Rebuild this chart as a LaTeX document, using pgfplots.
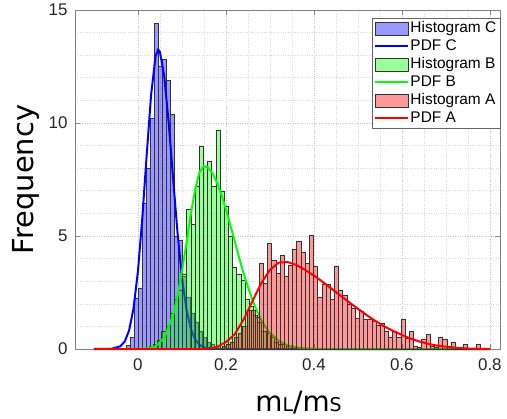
\documentclass[border=0pt]{standalone}
\usepackage{pgfplots}
\pgfplotsset{compat=1.18}
\usepackage{fontspec}
\setmainfont{Liberation Sans}
\newfontfamily\dejavu{DejaVu Sans}
\definecolor{hblue}{RGB}{0,0,255}
\definecolor{hgreen}{RGB}{0,255,0}
\definecolor{hred}{RGB}{255,0,0}
\definecolor{tickgray}{RGB}{38,38,38}
\definecolor{axgray}{RGB}{130,130,130}
\pgfplotsset{
  patchlegend/.style={legend image code/.code={\draw[##1] (0bp,-6.5bp) rectangle (33bp,6.5bp);}},
  linelegend/.style={legend image code/.code={\draw[##1] (0bp,0bp) -- (33bp,0bp);}},
}
\begin{document}
\begin{tikzpicture}
\begin{axis}[
  scale only axis,
  width=425bp, height=339bp,
  xmin=-0.143, xmax=0.823, ymin=0, ymax=15,
  xtick={0,0.2,0.4,0.6,0.8}, ytick={0,5,10,15},
  minor x tick num=3, minor y tick num=4,
  grid=both,
  major grid style={dotted, line width=0.6bp, black!22},
  minor grid style={dotted, line width=0.6bp, black!15},
  tick align=inside,
  major tick length=5bp, minor tick length=0pt,
  axis line style={axgray},
  tick style={axgray},
  tick label style={font=\fontsize{17}{17}\selectfont, text=tickgray},
  xticklabel style={yshift=-6bp},
  yticklabel style={xshift=-4bp},
  /pgf/number format/assume math mode=true,
  clip=false,
  xlabel={\dejavu\fontsize{28}{28}\selectfont m{\fontsize{19}{19}\selectfont L}/m{\fontsize{19}{19}\selectfont S}},
  xlabel style={at={(axis description cs:0.526,-0.185)}, anchor=base},
  ylabel={\dejavu\fontsize{29}{29}\selectfont Frequency},
  ylabel style={at={(axis description cs:-0.098,0.5)}, anchor=base},
  legend style={at={(1,0.976)}, anchor=north east, draw=black!60, fill=white,
    font=\fontsize{15.5}{15.5}\selectfont, inner xsep=2bp, inner ysep=1bp, row sep=0bp,
    nodes={inner sep=1.5bp, text height=11.5bp, text depth=3.5bp}},
  legend cell align=left,
]
% Histogram C
\addplot[ybar interval, fill=hblue, fill opacity=0.4, draw=black!80, line width=0.5bp, patchlegend] coordinates {
(-0.0266,0.15) (-0.0175,0.5) (-0.0085,2.25) (0.0006,2.7) (0.0097,6.45) (0.0188,8.0)
(0.0279,10.2) (0.0370,14.4) (0.0461,12.5) (0.0552,12.8) (0.0643,11.9) (0.0734,10.4)
(0.0825,5.0) (0.0915,4.8) (0.1006,3.2) (0.1097,2.3) (0.1188,1.6) (0.1279,1.2)
(0.1370,0.8) (0.1461,0.5) (0.1552,0.3) (0.1643,0.2) (0.1734,0.1) (0.1825,0.1)
};
\addlegendentry{Histogram C}
% PDF C
\addplot[hblue, line width=2bp, linelegend] coordinates {
(-0.10,0) (-0.06,0.01) (-0.04,0.12) (-0.03,0.33) (-0.02,0.82) (-0.01,1.79) (0.00,3.43)
(0.01,5.8) (0.02,8.6) (0.03,11.25) (0.04,12.95) (0.046,13.25) (0.05,13.15) (0.06,12.04)
(0.07,10.0) (0.08,7.54) (0.09,5.15) (0.10,3.19) (0.11,1.79) (0.12,0.91) (0.13,0.42)
(0.14,0.18) (0.15,0.07) (0.17,0.007) (0.20,0) (0.80,0)
};
\addlegendentry{PDF C}
% Histogram B
\addplot[ybar interval, fill=hgreen, fill opacity=0.4, draw=black!80, line width=0.5bp, patchlegend] coordinates {
(0.0255,0.1) (0.0349,0.2) (0.0444,0.4) (0.0539,0.8) (0.0634,1.0) (0.0728,1.6)
(0.0823,2.2) (0.0918,2.6) (0.1012,3.3) (0.1107,6.2) (0.1202,5.5) (0.1296,7.2)
(0.1391,8.95) (0.1486,8.1) (0.1581,8.3) (0.1675,7.2) (0.1770,9.7) (0.1865,7.0)
(0.1959,6.3) (0.2054,5.0) (0.2149,3.6) (0.2243,3.3) (0.2338,3.05) (0.2433,2.2)
(0.2528,1.9) (0.2622,1.5) (0.2717,1.2) (0.2812,0.8) (0.2906,0.7) (0.3001,0.5)
(0.3096,0.3) (0.3190,0.2) (0.3285,0.2) (0.3380,0.1) (0.3475,0.05) (0.3569,0.05)
};
\addlegendentry{Histogram B}
% PDF B
\addplot[hgreen, line width=2bp, linelegend] coordinates {
(-0.10,0) (0.00,0.003) (0.02,0.02) (0.04,0.12) (0.06,0.49) (0.08,1.49) (0.09,2.33)
(0.10,3.41) (0.11,4.65) (0.12,5.93) (0.13,7.05) (0.14,7.83) (0.15,8.1) (0.16,8.01)
(0.17,7.76) (0.18,7.35) (0.19,6.81) (0.20,6.18) (0.21,5.49) (0.22,4.77) (0.23,4.05)
(0.24,3.37) (0.25,2.75) (0.26,2.19) (0.27,1.71) (0.28,1.30) (0.29,0.97) (0.30,0.71)
(0.32,0.36) (0.34,0.16) (0.36,0.07) (0.38,0.025) (0.40,0.01) (0.45,0) (0.80,0)
};
\addlegendentry{PDF B}
% Histogram A
\addplot[ybar interval, fill=hred, fill opacity=0.4, draw=black!80, line width=0.5bp, patchlegend] coordinates {
(0.1906,0.1) (0.2000,0.2) (0.2095,0.3) (0.2190,0.5) (0.2285,0.7) (0.2379,1.0)
(0.2474,1.7) (0.2569,1.7) (0.2663,1.4) (0.2758,3.8) (0.2853,2.9) (0.2947,4.68)
(0.3042,3.94) (0.3137,3.35) (0.3232,4.16) (0.3326,3.2) (0.3421,3.7) (0.3516,4.41)
(0.3610,4.75) (0.3705,4.3) (0.3800,3.8) (0.3894,5.04) (0.3989,3.64) (0.4084,2.31)
(0.4179,2.88) (0.4273,2.88) (0.4368,2.2) (0.4463,3.64) (0.4557,2.61) (0.4652,2.39)
(0.4747,1.99) (0.4841,1.8) (0.4936,1.36) (0.5031,1.65) (0.5126,1.31) (0.5220,1.31)
(0.5315,1.25) (0.5410,1.06) (0.5504,1.14) (0.5599,0.77) (0.5694,0.54) (0.5788,0.77)
(0.5883,0.54) (0.5978,1.31) (0.6073,0.47) (0.6167,0.77) (0.6262,0.1) (0.6357,0.07)
(0.6451,0.43) (0.6546,0.66) (0.6641,0.1) (0.6735,0.07) (0.6830,0.54) (0.6925,0.44)
(0.7020,0.1) (0.7114,0.32) (0.7209,0.05) (0.7304,0.05) (0.7398,0.22) (0.7493,0.03)
(0.7588,0) (0.7682,0.22) (0.7777,0.22)
};
\addlegendentry{Histogram A}
% PDF A
\addplot[hred, line width=2bp, linelegend] coordinates {
(-0.10,0) (0.15,0) (0.17,0.04) (0.18,0.1) (0.20,0.3) (0.22,0.65) (0.24,1.3) (0.26,2.1)
(0.28,2.9) (0.30,3.5) (0.32,3.82) (0.34,3.85) (0.36,3.72) (0.38,3.5) (0.40,3.25)
(0.42,2.97) (0.44,2.67) (0.46,2.37) (0.48,2.07) (0.50,1.78) (0.52,1.5) (0.54,1.24)
(0.56,1.0) (0.58,0.8) (0.60,0.62) (0.62,0.46) (0.64,0.33) (0.66,0.23) (0.68,0.15)
(0.70,0.1) (0.72,0.06) (0.75,0.02) (0.80,0)
};
\addlegendentry{PDF A}
\end{axis}
\pgfresetboundingbox
\path[use as bounding box] (-75bp,-70bp) rectangle (432bp,349bp);
\end{tikzpicture}
\end{document}
